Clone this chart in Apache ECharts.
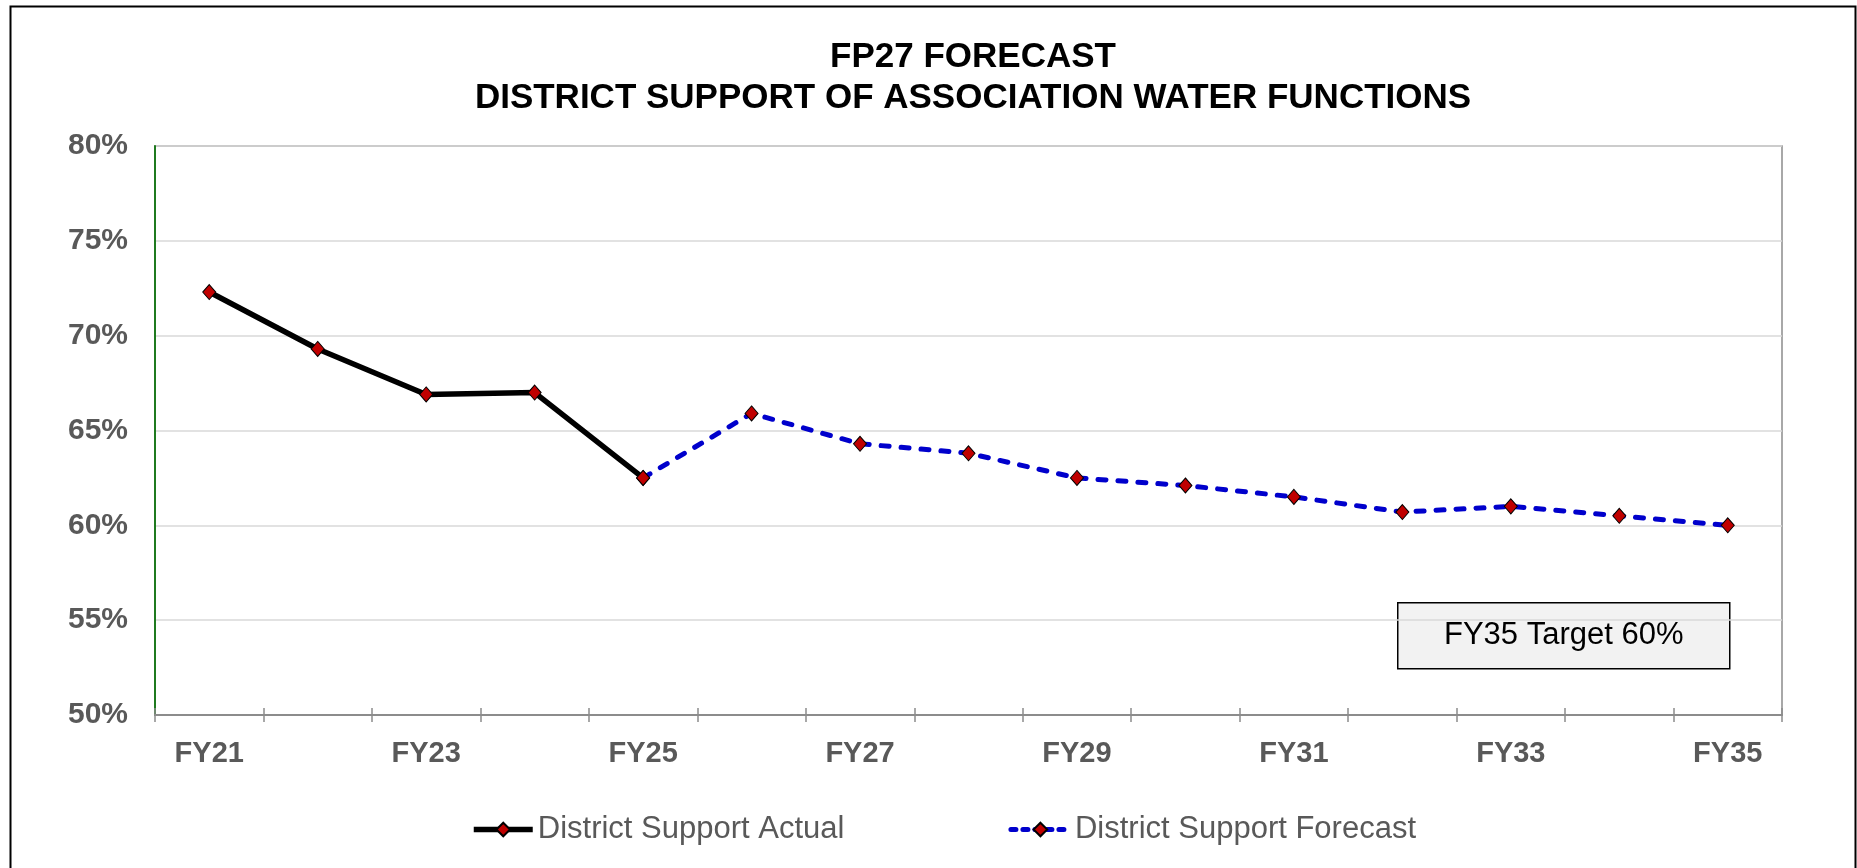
<!DOCTYPE html>
<html>
<head>
<meta charset="utf-8">
<script src="https://cdn.jsdelivr.net/npm/echarts@6/dist/echarts.min.js"></script>
<style>
  html, body { margin: 0; padding: 0; background: #fff; }
  #chart { width: 1857px; height: 868px; }
</style>
</head>
<body>
<div id="chart"></div>
<script>
const years = ['FY21', 'FY22', 'FY23', 'FY24', 'FY25', 'FY26', 'FY27', 'FY28',
  'FY29', 'FY30', 'FY31', 'FY32', 'FY33', 'FY34', 'FY35'];
const supportActual = [72.3, 69.3, 66.9, 67.0, 62.5, null, null, null,
  null, null, null, null, null, null, null];
const supportForecast = [null, null, null, null, 62.5, 65.9, 64.3, 63.8,
  62.5, 62.1, 61.5, 60.7, 61.0, 60.5, 60.0];

const font = '"Liberation Sans", Arial, sans-serif';
const chart = echarts.init(document.getElementById('chart'));

const marker = {
  symbol: 'diamond',
  symbolSize: [13, 15],
  itemStyle: { color: '#c00000', borderColor: '#000', borderWidth: 1 }
};
const actualLine = { color: '#000', width: 5.5 };
const forecastLine = { color: '#0000cc', width: 5, type: [8, 12], cap: 'round' };

chart.setOption({
  animation: false,
  textStyle: { fontFamily: font },
  title: {
    text: 'FP27 FORECAST\nDISTRICT SUPPORT OF ASSOCIATION WATER FUNCTIONS',
    left: 968,
    textAlign: 'center',
    top: 32,
    textStyle: { fontSize: 35, fontWeight: 'bold', color: '#000', lineHeight: 41, fontFamily: font }
  },
  grid: {
    left: 155, right: 75, top: 146, bottom: 153,
    show: true, borderColor: '#8c8c8c', borderWidth: 1.5, backgroundColor: 'transparent'
  },
  legend: {
    left: 466,
    top: 809,
    itemWidth: 59,
    itemHeight: 17,
    itemGap: 164,
    textStyle: { fontSize: 31, color: '#595959', fontFamily: font },
    data: [
      { name: 'District Support Actual', lineStyle: actualLine },
      { name: 'District Support Forecast', lineStyle: { color: '#0000cc', width: 5, type: [5, 7], cap: 'round' } }
    ]
  },
  xAxis: [{
    type: 'category',
    data: years,
    boundaryGap: true,
    axisLine: { lineStyle: { color: '#8c8c8c', width: 2 } },
    axisTick: { show: true, interval: 0, length: 7, lineStyle: { color: '#8c8c8c', width: 1.5 } },
    axisLabel: { interval: 1, margin: 24, fontSize: 29, fontWeight: 'bold', color: '#595959', fontFamily: font },
    splitLine: { show: false }
  }, {
    type: 'category',
    data: years,
    position: 'bottom',
    boundaryGap: true,
    axisLine: { show: false },
    axisTick: { show: true, inside: true, interval: 0, length: 7, lineStyle: { color: '#8c8c8c', width: 1.5 } },
    axisLabel: { show: false }
  }],
  yAxis: {
    type: 'value',
    min: 50,
    max: 80,
    interval: 5,
    axisLine: { show: true, lineStyle: { color: '#1f7a1f', width: 2 } },
    axisTick: { show: false },
    axisLabel: { formatter: '{value}%', margin: 27, fontSize: 30, fontWeight: 'bold', color: '#595959', fontFamily: font },
    splitLine: { lineStyle: { color: '#d9d9d9', width: 1.5 } }
  },
  series: [{
    name: 'District Support Actual',
    type: 'line',
    data: supportActual,
    connectNulls: false,
    ...marker,
    lineStyle: actualLine,
    z: 3
  }, {
    name: 'District Support Forecast',
    type: 'line',
    data: supportForecast,
    connectNulls: false,
    ...marker,
    lineStyle: forecastLine,
    z: 2
  }],
  graphic: [{
    type: 'rect',
    left: 8, top: 4,
    shape: { width: 1845, height: 900 },
    style: { fill: 'none', stroke: '#000', lineWidth: 2 },
    silent: true
  }, {
    type: 'group',
    left: 1397, top: 602,
    children: [{
      type: 'rect',
      shape: { width: 332, height: 66 },
      style: { fill: '#f2f2f2', stroke: '#000', lineWidth: 1.5 }
    }, {
      type: 'text',
      x: 166, y: 33,
      style: {
        text: 'FY35 Target 60%', fill: '#000', fontSize: 31, fontFamily: font,
        align: 'center', verticalAlign: 'middle'
      }
    }]
  }]
});
</script>
</body>
</html>
